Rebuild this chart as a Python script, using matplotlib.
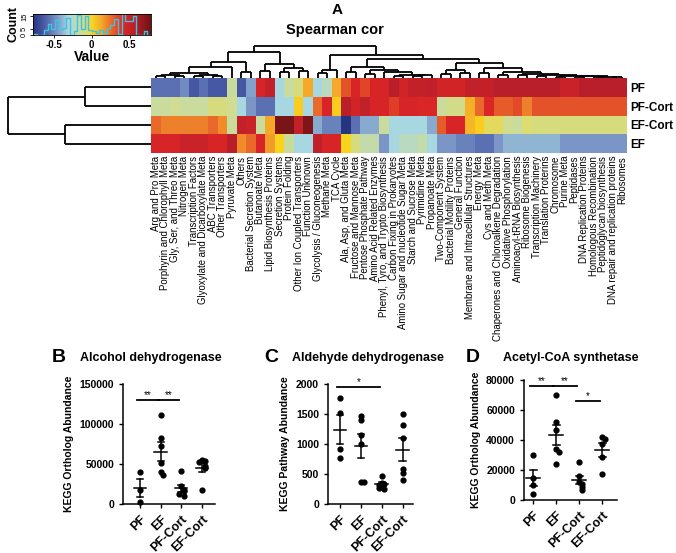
import matplotlib
matplotlib.use('Agg')
import matplotlib.pyplot as plt
import numpy as np
from matplotlib.colors import LinearSegmentedColormap

plt.rcParams['font.family'] = ['Liberation Sans', 'DejaVu Sans']

# ---------------- data: panel A (Spearman correlation heatmap) ----------------
rows = ["PF", "PF-Cort", "EF-Cort", "EF"]
pathways = [
    "Arg and Pro Meta", "Porphyrin and Chlorophyll Meta", "Gly, Ser, and Threo Meta",
    "Nitrogen Meta", "Transcription Factors", "Glyoxylate and Dicarboxylate Meta",
    "ABC Transporters", "Other Transporters", "Pyruvate Meta", "Others",
    "Bacterial Secretion System", "Butanoate Meta", "Lipid Biosynthesis Proteins",
    "Secretion Systems", "Protein Folding", "Other Ion Coupled Transporters",
    "Function Unknown", "Glycolysis / Gluconeogenesis", "Methane Meta", "TCA Cycle",
    "Ala, Asp, and Gluta Meta", "Fructose and Mannose Meta", "Pentose Phosphate Pathway",
    "Amino Acid Related Enzymes", "Phenyl, Tyro, and Trypto Biosynthesis",
    "Carbon Fixing in Prokaryotes", "Amino Sugar and nucleotide Sugar Meta",
    "Starch and Sucrose Meta", "Pyrimidine Meta", "Propanoate Meta",
    "Two-Component System", "Bacterial Motility Proteins", "General Function",
    "Membrane and Intracellular Structures", "Energy Meta", "Cys and Meth Meta",
    "Chaperones and Chloroalkene Degradation", "Oxidative Phosphorylation",
    "Aminoacyl-tRNA Biosynthesis", "Ribosome Biogenesis", "Transcription Machinery",
    "Translation Proterins", "Chromosome", "Purine Meta", "Peptidases",
    "DNA Replication Proteins", "Homologous Recombination", "Peptidoglycan biosynthesis",
    "DNA repair and replication proteins", "Ribosomes",
]
cor_pf = [-0.55, -0.55, -0.55, -0.48, -0.62, -0.55, -0.62, -0.62, -0.15, -0.62,
          -0.42, 0.42, 0.5, -0.3, -0.15, -0.08, 0.12, -0.3, -0.22, 0.12,
          0.3, 0.42, 0.33, 0.42, 0.42, 0.55, 0.45, 0.5, 0.5, 0.52,
          0.45, 0.45, 0.45, 0.5, 0.5, 0.5, 0.55, 0.55, 0.55, 0.55,
          0.55, 0.55, 0.55, 0.48, 0.48, 0.55, 0.55, 0.55, 0.55, 0.55]
cor_pfc = [-0.15, -0.15, -0.12, -0.15, -0.15, -0.15, -0.08, -0.08, -0.12, -0.3,
           -0.45, -0.55, -0.55, -0.3, -0.3, 0.02, -0.3, 0.25, 0.42, 0.02,
           0.55, 0.45, 0.5, 0.42, 0.42, 0.35, 0.42, 0.42, 0.4, 0.4,
           -0.15, -0.1, -0.1, 0.1, 0.25, 0.4, 0.28, 0.28, 0.32, 0.2,
           0.3, 0.3, 0.3, 0.3, 0.3, 0.3, 0.3, 0.3, 0.3, 0.3]
cor_efc = [0.25, 0.2, 0.2, 0.2, 0.2, 0.2, 0.25, 0.18, -0.15, 0.5,
           0.48, -0.15, 0.12, 0.72, 0.72, 0.5, 0.7, -0.4, -0.5, -0.5,
           -0.75, -0.55, -0.4, -0.4, -0.15, -0.3, -0.3, -0.3, -0.3, -0.4,
           0.28, 0.42, 0.42, 0.08, 0.02, -0.04, -0.04, -0.12, -0.15, -0.05,
           -0.08, -0.08, -0.08, -0.08, -0.08, -0.08, -0.08, -0.08, -0.08, -0.08]
cor_ef = [0.42, 0.42, 0.42, 0.48, 0.48, 0.48, 0.42, 0.42, 0.55, 0.18,
          0.25, 0.42, 0.15, 0.0, -0.15, -0.3, -0.3, 0.52, 0.42, 0.42,
          0.0, -0.08, -0.18, -0.18, -0.45, -0.3, -0.22, -0.22, -0.18, -0.3,
          -0.45, -0.45, -0.5, -0.5, -0.55, -0.55, -0.45, -0.38, -0.38, -0.38,
          -0.38, -0.38, -0.38, -0.45, -0.45, -0.45, -0.45, -0.45, -0.45, -0.45]

# dendrogram trees: [merge height, left, right], leaves are indices
row_tree = [1.0, [0.46, 0, 1], [0.6, 2, 3]]
g_blue = [0.15, [0.08, [0.05, 0, 1], [0.06, 2, 3]], [0.1, [0.05, 4, 5], [0.07, 6, 7]]]
left_tree = [0.8, [0.5, [0.35, g_blue, 8], [0.18, 9, 10]],
             [0.42, [0.22, 11, 12], [0.3, [0.2, 13, 14], [0.22, 15, 16]]]]
r1 = [0.35, [0.2, 20, 21], [0.25, [0.12, 22, 23],
      [0.18, 24, [0.1, [0.06, 25, 26], [0.08, [0.05, 27, 28], 29]]]]]
r2 = [0.45, [0.25, [0.12, 30, 31], [0.15, 32, 33]],
      [0.3, [0.15, 34, 35], [0.2, [0.1, 36, 37], [0.12, [0.08, 38, 39],
       [0.09, [0.05, 40, 41], [0.07, [0.04, 42, 43], [0.05, [0.03, 44, 45],
        [0.04, [0.02, 46, 47], [0.03, 48, 49]]]]]]]]]
right_tree = [0.7, [0.25, [0.15, 17, 18], 19], [0.6, r1, r2]]
col_tree = [1.0, left_tree, right_tree]

# ---------------- data: panels B-D ----------------
groups = ["PF", "EF", "PF-Cort", "EF-Cort"]
adh = [[40000, 17000, 2000],
       [111000, 82000, 72000, 51000, 40000, 36000],
       [41000, 22000, 17000, 16000, 12000, 10000],
       [55000, 54000, 52000, 48000, 45000, 18000]]
aldh = [[1770, 1510, 910, 760],
        [1470, 1400, 1150, 1000, 370, 370],
        [460, 350, 330, 320, 270, 250],
        [1500, 1320, 1100, 590, 520, 400]]
acs = [[30000, 15000, 10000, 4000],
       [70000, 52000, 47000, 34000, 32000, 24000],
       [25500, 16000, 12000, 11000, 8500, 7000],
       [42000, 40500, 37500, 29000, 17500]]
adh_sig = [(0, 1, 130000, "**"), (1, 2, 130000, "**")]
aldh_sig = [(0, 2, 1950, "*")]
acs_sig = [(0, 1, 76000, "**"), (1, 2, 76000, "**"), (2, 3, 66000, "*")]

# ---------------- figure ----------------
W, H = 676, 553
fig = plt.figure(figsize=(W / 100, H / 100), dpi=100)


def rect(x0, y0, x1, y1):
    return [x0 / W, 1 - y1 / H, (x1 - x0) / W, (y1 - y0) / H]


cmap = LinearSegmentedColormap.from_list("cor", [
    (0.0, '#26337f'), (0.1, '#4b5ea9'), (0.2, '#7a95c6'), (0.3, '#a8d8e2'),
    (0.4, '#c9dc9e'), (0.467, '#dcdc70'), (0.5, '#f9d51d'), (0.58, '#f5a82a'),
    (0.667, '#e9692a'), (0.767, '#dc2626'), (0.867, '#b81f2a'), (1.0, '#6e1214')])
vmin, vmax = -0.75, 0.75

mat = np.array([cor_pf, cor_pfc, cor_efc, cor_ef])
ncol = mat.shape[1]

# heatmap
ax = fig.add_axes(rect(151, 78, 627, 153))
ax.pcolormesh(np.arange(ncol + 1), np.arange(5), mat, cmap=cmap, vmin=vmin, vmax=vmax)
ax.set_xlim(0, ncol)
ax.set_ylim(4, 0)
ax.set_xticks(np.arange(ncol) + 0.5)
ax.set_xticklabels(pathways, rotation=90, fontsize=6.9)
ax.set_yticks(np.arange(4) + 0.5)
ax.set_yticklabels(rows, fontsize=8.5, fontweight='bold')
ax.yaxis.tick_right()
ax.tick_params(length=0, pad=2)
for s in ax.spines.values():
    s.set_visible(False)


def draw_tree(a, node, orient):
    if not isinstance(node, list):
        return node + 0.5, 0.0
    h, l, r = node
    xl, hl = draw_tree(a, l, orient)
    xr, hr = draw_tree(a, r, orient)
    for xx, hh in ((xl, hl), (xr, hr)):
        if orient == 'top':
            a.plot([xx, xx], [hh, h], color='black', lw=1.3, solid_capstyle='butt')
        else:
            a.plot([hh, h], [xx, xx], color='black', lw=1.3, solid_capstyle='butt')
    if orient == 'top':
        a.plot([xl, xr], [h, h], color='black', lw=1.3, solid_capstyle='butt')
    else:
        a.plot([h, h], [xl, xr], color='black', lw=1.3, solid_capstyle='butt')
    return (xl + xr) / 2, h


axd = fig.add_axes(rect(151, 45, 627, 78))
draw_tree(axd, col_tree, 'top')
axd.set_xlim(0, ncol)
axd.set_ylim(0, 1.02)
axd.axis('off')

axr = fig.add_axes(rect(5, 78, 151, 153))
draw_tree(axr, row_tree, 'left')
axr.set_ylim(4, 0)
axr.set_xlim(1.02, 0)
axr.axis('off')

# colour key with histogram
axk = fig.add_axes(rect(33, 14, 151, 35))
grad = np.linspace(vmin, vmax, 256).reshape(1, -1)
axk.imshow(grad, cmap=cmap, aspect='auto', extent=(-0.77, 0.78, 0, 17), vmin=vmin, vmax=vmax)
cnt, edges = np.histogram(mat.ravel(), bins=np.linspace(-0.77, 0.78, 33))
axk.step(edges, np.r_[cnt, cnt[-1]], where='post', color='#3ec3e3', lw=1)
axk.set_xlim(-0.77, 0.78)
axk.set_ylim(0, 17)
axk.set_xticks([-0.5, 0, 0.5])
axk.set_xticklabels(["-0.5", "0", "0.5"], fontsize=7, fontweight='bold')
axk.set_yticks([0, 5, 15])
axk.set_yticklabels(["0", "5", "15"], fontsize=5.5, rotation=90, va='center')
axk.tick_params(length=2, width=0.6, pad=1.5)
axk.set_xlabel("Value", fontsize=10, fontweight='bold', labelpad=0)
axk.set_ylabel("Count", fontsize=9, fontweight='bold', labelpad=1)
for s in axk.spines.values():
    s.set_linewidth(0.6)

fig.text(337 / W, 1 - 10 / H, "A", fontsize=11, fontweight='bold', ha='center', va='center')
fig.text(335 / W, 1 - 30 / H, "Spearman cor", fontsize=10.5, fontweight='bold',
         ha='center', va='center')


# ---------------- scatter panels ----------------
def spread(vals, tol, w=0.13):
    offs = []
    for i, v in enumerate(vals):
        k = sum(1 for j in range(i) if abs(vals[j] - v) < tol)
        offs.append(0 if k == 0 else ((k + 1) // 2) * w * (1 if k % 2 else -1))
    return np.array(offs)


def dot_panel(box, data, sigs, ymax, step, ylabel, title, letter, lx, tx, xlim):
    a = fig.add_axes(rect(*box))
    for i, vals in enumerate(data):
        v = np.array(vals, dtype=float)
        a.scatter(i + spread(list(v), ymax * 0.035), v, s=12, color='black', zorder=3,
                  clip_on=False)
        m = v.mean()
        se = v.std(ddof=1) / np.sqrt(len(v))
        a.plot([i - 0.3, i + 0.3], [m, m], color='black', lw=1.1)
        a.plot([i, i], [m - se, m + se], color='black', lw=1.1)
        a.plot([i - 0.15, i + 0.15], [m - se, m - se], color='black', lw=1.1)
        a.plot([i - 0.15, i + 0.15], [m + se, m + se], color='black', lw=1.1)
    for g1, g2, y, star in sigs:
        a.plot([g1 - 0.15, g2 - 0.1], [y, y], color='black', lw=1.3, clip_on=False)
        a.text((g1 + g2) / 2 - 0.12, y, star, ha='center', va='bottom', fontsize=7)
    a.set_xlim(*xlim)
    a.set_ylim(0, ymax)
    a.set_yticks(np.arange(0, ymax + 1, step))
    a.set_yticklabels([f"{int(t)}" for t in np.arange(0, ymax + 1, step)],
                      fontsize=7.5, fontweight='bold')
    a.set_xticks(range(len(groups)))
    a.set_xticklabels(groups, rotation=45, ha='right', rotation_mode='anchor',
                      fontsize=9, fontweight='bold')
    a.tick_params(length=3, width=1)
    for s in ['top', 'right']:
        a.spines[s].set_visible(False)
    for s in ['left', 'bottom']:
        a.spines[s].set_linewidth(1.1)
    a.set_ylabel(ylabel, fontsize=7.5, fontweight='bold')
    fig.text(lx / W, 1 - 358 / H, letter, fontsize=14, fontweight='bold', ha='left', va='center')
    fig.text(tx / W, 1 - 358 / H, title, fontsize=9, fontweight='bold', ha='left', va='center')
    return a


dot_panel((123, 384, 215, 504), adh, adh_sig, 150000, 50000, "KEGG Ortholog Abundance",
          "Alcohol dehydrogenase", "B", 52, 80, (-0.83, 3.64))
dot_panel((328, 384, 413, 504), aldh, aldh_sig, 2000, 500, "KEGG Pathway Abundance",
          "Aldehyde dehydrogenase", "C", 264, 292, (-0.57, 3.5))
dot_panel((524, 380, 617, 500), acs, acs_sig, 80000, 20000, "KEGG Ortholog Abundance",
          "Acetyl-CoA synthetase", "D", 466, 503, (-0.4, 3.65))

fig.savefig("out.png", dpi=100)
